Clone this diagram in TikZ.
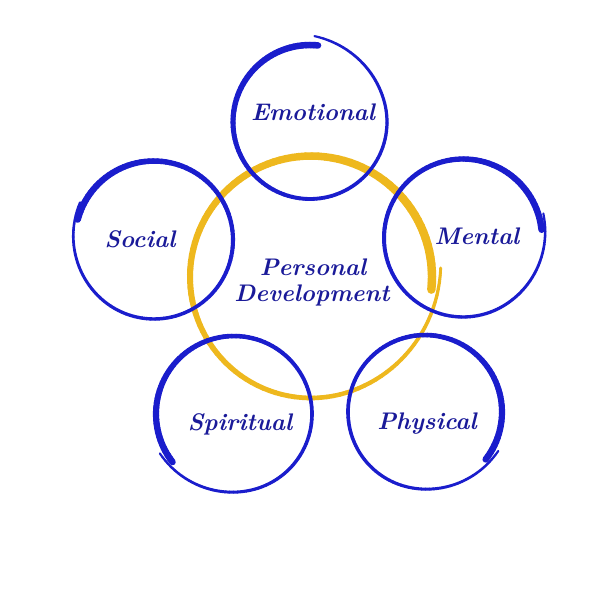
\documentclass[tikz,border=0pt]{standalone}
\usepackage{graphicx}
\definecolor{ringblue}{HTML}{1A1DCC}
\definecolor{ringyellow}{HTML}{EEB81E}
\definecolor{txtblue}{HTML}{1A1A99}
% #1 cx, #2 cy, #3 r, #4 start angle, #5 sweep, #6 tail radius growth, #7 width scale, #8 colour, #9 thick-part length
\newcommand\hcircle[9]{%
  \foreach \i in {0,...,119}{%
    \pgfmathsetmacro\ta{\i/120}%
    \pgfmathsetmacro\tb{(\i+1)/120}%
    \pgfmathsetmacro\tm{(\i+0.5)/120}%
    \pgfmathsetmacro\aa{#4+#5*\ta}%
    \pgfmathsetmacro\ab{#4+#5*\tb}%
    \pgfmathsetmacro\ra{#3+#6*(max(0,(\ta-0.8)/0.2))^2}%
    \pgfmathsetmacro\rb{#3+#6*(max(0,(\tb-0.8)/0.2))^2}%
    \pgfmathsetmacro\w{#7*(2+2.5*sqrt(1-\tm)+2*exp(-(\tm/#9)^2))}%
    \draw[#8, line width=\w pt, line cap=round]
      ({#1+\ra*cos(\aa)},{#2-\ra*sin(\aa)}) -- ({#1+\rb*cos(\ab)},{#2-\rb*sin(\ab)});
  }%
}
\tikzset{
  lbl/.style={text=txtblue, font=\fontsize{24}{26}\selectfont\bfseries\itshape, inner sep=0pt, anchor=base},
}
\begin{document}
\begin{tikzpicture}[x=1pt,y=-1pt]
\useasboundingbox (0,0) rectangle (600,592);
\fill[white] (0,0) rectangle (600,592);
% central ring
\hcircle{311}{277}{121}{-6}{370}{9}{1.3}{ringyellow}{0.55}
% outer rings
\hcircle{310}{122}{77}{84}{363}{9}{1}{ringblue}{0.3}
\hcircle{154}{240}{79}{165}{-372}{4}{1}{ringblue}{0.3}
\hcircle{463}{238}{79}{6}{371}{5}{1}{ringblue}{0.3}
\hcircle{234}{414}{78}{218}{-370}{6}{1}{ringblue}{0.3}
\hcircle{425}{412}{77}{-38}{370}{6}{1}{ringblue}{0.3}
% labels
\node[lbl] (emo) at (313,120) {Emotional};
\node[lbl] (soc) at (140,247) {Social};
\node[lbl] (men) at (477,244) {Mental};
\node[lbl] (per) at (313,275) {Personal};
\node[lbl] (dev) at (312,301) {Development};
\node[lbl] (spi) at (240,430) {Spiritual};
\node[lbl] (phy) at (427,429) {Physical};
\end{tikzpicture}
\end{document}
